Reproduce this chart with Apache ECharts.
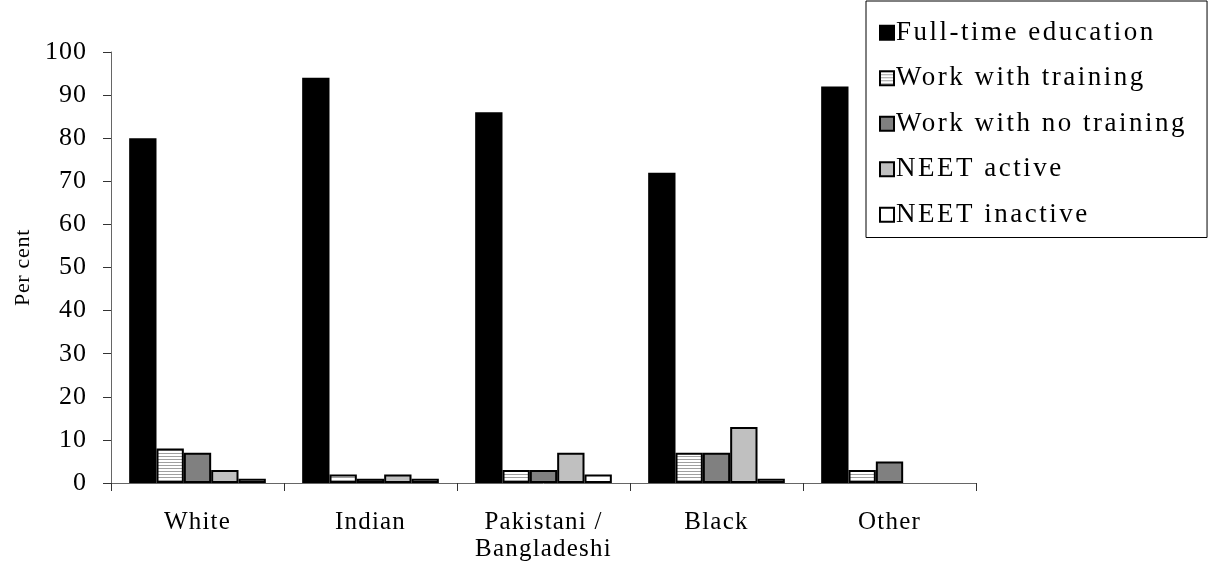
<!DOCTYPE html>
<html>
<head>
<meta charset="utf-8">
<script src="https://cdn.jsdelivr.net/npm/echarts@6/dist/echarts.min.js"></script>
<style>
html,body{margin:0;padding:0;background:#fff;}
#chart{width:1210px;height:570px;}
</style>
</head>
<body>
<div id="chart"></div>
<script>
const categories = ['White', 'Indian', 'Pakistani /\nBangladeshi', 'Black', 'Other'];
const seriesNames = ['Full-time education', 'Work with training', 'Work with no training', 'NEET active', 'NEET inactive'];
const fullTimeEducation = [80, 94, 86, 72, 92];
const workWithTraining = [8, 2, 3, 7, 3];
const workWithNoTraining = [7, 1, 3, 7, 5];
const neetActive = [3, 2, 7, 13, null];
const neetInactive = [1, 1, 2, 1, null];
const yTicks = { min: 0, max: 100, interval: 10 };

// letter spacing by font size (the reference text is widely tracked)
const SPACING = { 27: '2.5px', 25: '1.2px', 26: '1px', 22: '0.7px' };
(function () {
  const proto = CanvasRenderingContext2D.prototype;
  const desc = Object.getOwnPropertyDescriptor(proto, 'font');
  if (!desc || !('letterSpacing' in proto)) return;
  Object.defineProperty(proto, 'font', {
    configurable: true,
    get: function () { return desc.get.call(this); },
    set: function (v) {
      desc.set.call(this, v);
      const m = /(\d+(?:\.\d+)?)px/.exec(v);
      const sp = m && SPACING[Math.round(parseFloat(m[1]))];
      this.letterSpacing = sp || '0px';
    }
  });
})();

function stripePattern() {
  const c = document.createElement('canvas');
  c.width = 4; c.height = 3;
  const ctx = c.getContext('2d');
  ctx.fillStyle = '#ffffff';
  ctx.fillRect(0, 0, 4, 3);
  ctx.fillStyle = '#a0a0a0';
  ctx.fillRect(0, 0, 4, 1);
  return c;
}

const FONT = 'Liberation Serif';
const fills = ['#000000', { image: stripePattern(), repeat: 'repeat' }, '#808080', '#c0c0c0', '#ffffff'];
const dataSets = [fullTimeEducation, workWithTraining, workWithNoTraining, neetActive, neetInactive];

const chart = echarts.init(document.getElementById('chart'), null, { renderer: 'canvas' });
chart.setOption({
  animation: false,
  backgroundColor: '#ffffff',
  grid: { left: 111, right: 234, top: 52, bottom: 87, containLabel: false, outerBoundsMode: 'none' },
  legend: {
    orient: 'vertical',
    left: 866,
    top: 1,
    padding: [17, 20, 8, 13],
    borderColor: '#000',
    borderWidth: 1,
    borderRadius: 0,
    itemWidth: 14,
    itemHeight: 14,
    itemGap: 16,
    icon: 'rect',
    textStyle: { fontFamily: FONT, fontSize: 27, color: '#000', lineHeight: 27, padding: [0, 0, 0, -3] },
    data: seriesNames
  },
  xAxis: {
    type: 'category',
    data: categories,
    axisLine: { lineStyle: { color: '#666', width: 1 } },
    axisTick: { show: true, length: 8, lineStyle: { color: '#333' } },
    axisLabel: { interval: 0, hideOverlap: false, fontFamily: FONT, fontSize: 25, color: '#000', margin: 26, lineHeight: 27 }
  },
  yAxis: {
    type: 'value',
    min: yTicks.min,
    max: yTicks.max,
    interval: yTicks.interval,
    name: 'Per cent',
    nameLocation: 'middle',
    nameRotate: 90,
    nameGap: 76,
    nameTextStyle: { fontFamily: FONT, fontSize: 22, color: '#000' },
    axisLine: { show: true, lineStyle: { color: '#666', width: 1 } },
    axisTick: { show: true, length: 8, lineStyle: { color: '#333' } },
    axisLabel: { fontFamily: FONT, fontSize: 26, color: '#000', margin: 24 },
    splitLine: { show: false }
  },
  series: seriesNames.map((name, i) => ({
    name: name,
    type: 'bar',
    data: dataSets[i],
    barGap: '0%',
    barCategoryGap: '21%',
    itemStyle: { color: fills[i], borderColor: '#000', borderWidth: 2 }
  }))
});
</script>
</body>
</html>
